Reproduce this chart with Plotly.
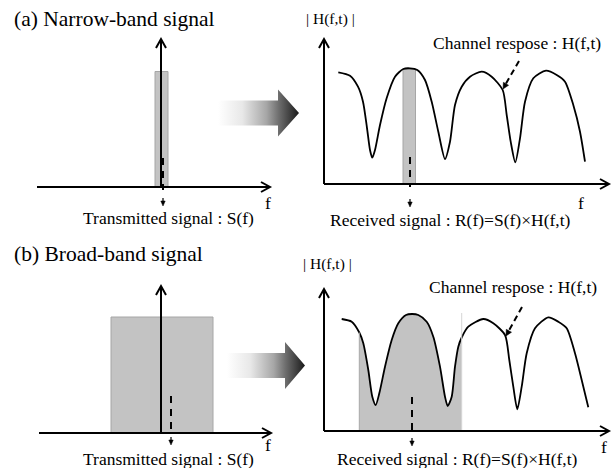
import math
import plotly.graph_objects as go

# ---------------- data (diagram coordinates, pixel space) ----------------
# Channel response |H(f,t)| (panel a, right)
chan_a_x = [338.3, 350, 358, 363, 367, 370, 372.3, 375, 380, 386.7, 395, 403.3, 410, 417.3,
            425, 431.7, 438.3, 445, 450, 455, 461.7, 470, 481.7, 491.7, 502.7, 506.7, 510.7,
            515.3, 520, 525, 533.3, 546, 556.7, 565, 573.3, 580, 585]
chan_a_y = [72.3, 75.7, 86.7, 101.7, 128, 150, 157.7, 150, 125, 98, 76.7, 69, 68.3, 70,
            80, 101.7, 131.7, 159, 141.7, 105, 86.7, 76.7, 71.7, 76.7, 90, 115, 141.7,
            162.3, 138.3, 101.7, 78.3, 70.7, 75, 81.7, 105, 131.7, 161.7]
# Channel response |H(f,t)| (panel b, right)
chan_b_x = [341.7, 351.7, 359.3, 363.3, 368.3, 372.3, 375.7, 379.3, 385, 391.7, 398.3, 406,
            412, 418.3, 426.7, 433.3, 440, 445, 447.7, 451.7, 455, 458.3, 461.7, 468.3,
            483.3, 493.3, 505, 509.3, 513.3, 517.3, 521.7, 526.7, 535, 548.3, 558.3,
            566.7, 575, 581.7, 588.3]
chan_b_y = [319, 321.7, 332.5, 343.3, 370, 396.7, 405, 393.3, 366.7, 340, 323.3, 315,
            314, 315, 321.7, 336.7, 366.7, 396.7, 406, 396.7, 366.7, 346.7, 337.5, 326.7,
            319, 323.3, 335, 360, 386.7, 409.3, 386.7, 353.3, 328.3, 317.3, 321.7,
            328.3, 353.3, 380, 407.3]

# signal bands [x0, x1, top]
narrow_tx = [155, 168, 71.5]
narrow_rx = [403, 415.5, 69]
broad_tx = [111, 213, 317]
broad_rx = [359.3, 461.7]

FONT = "Liberation Serif"
shapes = []
traces = []
annotations = []


def line(x0, y0, x1, y1, w=2, color="black", dash=None):
    d = dict(type="line", xref="x", yref="y", x0=x0, y0=y0, x1=x1, y1=y1,
             line=dict(color=color, width=w))
    if dash:
        d["line"]["dash"] = dash
    shapes.append(d)


def chevron(tx, ty, dx, dy, L=9, W=5):
    n = math.hypot(dx, dy)
    ux, uy = dx / n, dy / n
    px, py = -uy, ux
    ax1, ay1 = tx - ux * L + px * W, ty - uy * L + py * W
    ax2, ay2 = tx - ux * L - px * W, ty - uy * L - py * W
    shapes.append(dict(type="path", xref="x", yref="y",
                       path=f"M {ax1},{ay1} L {tx},{ty} L {ax2},{ay2}",
                       line=dict(color="black", width=2)))


def solid_head(tx, ty, dx, dy, L=5, W=2.5):
    n = math.hypot(dx, dy)
    ux, uy = dx / n, dy / n
    px, py = -uy, ux
    bx, by = tx - ux * L, ty - uy * L
    shapes.append(dict(type="path", xref="x", yref="y",
                       path=f"M {bx + px * W},{by + py * W} L {tx},{ty} L {bx - px * W},{by - py * W} Z",
                       fillcolor="black", line=dict(color="black", width=0.5)))


def axes(ox, oy, xend, ytop, xstart=None):
    line(xstart if xstart is not None else ox, oy, xend, oy)
    chevron(xend, oy, 1, 0)
    line(ox, oy, ox, ytop)
    chevron(ox, ytop, 0, -1)


def small_down(x, y0, y1):
    line(x, y0, x, y1 - 3, w=1.2)
    solid_head(x, y1, 0, 1, L=5, W=2.2)


def rect(x0, x1, y0, y1):
    shapes.append(dict(type="rect", xref="x", yref="y", x0=x0, x1=x1, y0=y0, y1=y1,
                       fillcolor="#c3c3c3", line=dict(color="#a6a6a6", width=1), layer="below"))


def big_arrow(x0, xh, xt, yc, bh=12.5, hh=23.5):
    xs = [x0, xh, xh, xt, xh, xh, x0, x0]
    ys = [yc - bh, yc - bh, yc - hh, yc, yc + hh, yc + bh, yc + bh, yc - bh]
    traces.append(go.Scatter(x=xs, y=ys, mode="lines", fill="toself", line=dict(width=0),
                             fillgradient=dict(type="horizontal",
                                               colorscale=[[0, "#ffffff"], [0.3, "#e8e8e8"],
                                                           [0.6, "#a6a6a6"], [0.75, "#6e6e6e"],
                                                           [1, "#1a1a1a"]]),
                             hoverinfo="skip", showlegend=False))


def text(x, y, s, size=17.5, xanchor="center"):
    annotations.append(dict(x=x, y=y, xref="x", yref="y", text=s, showarrow=False,
                            xanchor=xanchor, yanchor="middle",
                            font=dict(family=FONT, size=size, color="black")))


# ---------------- panel (a) ----------------
rect(narrow_tx[0], narrow_tx[1], narrow_tx[2], 187)
axes(161, 187, 270, 39, xstart=37)
line(163, 158, 163, 190, w=2, dash="7px,6px")
small_down(163, 198, 206)
text(12, 19, "(a) Narrow-band signal", size=21.5, xanchor="left")
text(268, 203, "f")
text(168, 218, "Transmitted signal : S(f)")
big_arrow(218, 278, 299, 113)

rect(narrow_rx[0], narrow_rx[1], narrow_rx[2], 184)
axes(324, 184, 609, 39)
traces.append(go.Scatter(x=chan_a_x, y=chan_a_y, mode="lines",
                         line=dict(color="black", width=1.8, shape="spline", smoothing=0.7),
                         hoverinfo="skip", showlegend=False))
line(410, 157, 410, 187, w=2, dash="7px,6px")
small_down(410, 199, 207)
text(330, 19, "| H(f,t) |", size=15.5)
text(581, 203, "f")
text(450.5, 220, "Received signal : R(f)=S(f)×H(f,t)")
text(517, 43, "Channel respose : H(f,t)")
line(519, 61, 504, 87, w=2, dash="6px,4px")
solid_head(503, 89, -16, 28, L=6, W=3)

# ---------------- panel (b) ----------------
rect(broad_tx[0], broad_tx[1], broad_tx[2], 433)
axes(161, 433, 271, 286, xstart=39)
line(171, 396, 171, 433, w=2, dash="7px,6px")
small_down(171, 437, 445)
text(12, 254, "(b) Broad-band signal", size=21.5, xanchor="left")
text(268, 445, "f")
text(168, 459, "Transmitted signal : S(f)")
big_arrow(227, 285, 305, 365.5)

fx = [x for x in chan_b_x if broad_rx[0] <= x <= broad_rx[1]]
fy = [y for x, y in zip(chan_b_x, chan_b_y) if broad_rx[0] <= x <= broad_rx[1]]
traces.append(go.Scatter(x=[broad_rx[0], broad_rx[1]], y=[431, 431], mode="lines",
                         line=dict(width=0), hoverinfo="skip", showlegend=False))
traces.append(go.Scatter(x=fx, y=fy, mode="lines", fill="tonexty", fillcolor="#c3c3c3",
                         line=dict(width=0, shape="spline", smoothing=0.7),
                         hoverinfo="skip", showlegend=False))
line(broad_rx[0], fy[0], broad_rx[0], 431, w=1, color="#a8a8a8")
line(broad_rx[1], 313, broad_rx[1], 431, w=1, color="#d6d6d6")
axes(324, 431, 609, 289)
traces.append(go.Scatter(x=chan_b_x, y=chan_b_y, mode="lines",
                         line=dict(color="black", width=1.8, shape="spline", smoothing=0.7),
                         hoverinfo="skip", showlegend=False))
line(412, 397, 412, 431, w=2, dash="7px,6px")
small_down(412, 438, 446)
text(327, 264, "| H(f,t) |", size=15.5)
text(604, 447, "f")
text(457, 459, "Received signal : R(f)=S(f)×H(f,t)")
text(513, 287, "Channel respose : H(f,t)")
line(522, 307, 507, 334, w=2, dash="6px,4px")
solid_head(506, 336, -16, 29, L=6, W=3)

fig = go.Figure(data=traces)
fig.update_layout(width=616, height=468, margin=dict(l=0, r=0, t=0, b=0),
                  paper_bgcolor="white", plot_bgcolor="white",
                  xaxis=dict(range=[0, 616], visible=False, fixedrange=True),
                  yaxis=dict(range=[468, 0], visible=False, fixedrange=True),
                  shapes=shapes, annotations=annotations, showlegend=False)
fig.write_html("out.html")
